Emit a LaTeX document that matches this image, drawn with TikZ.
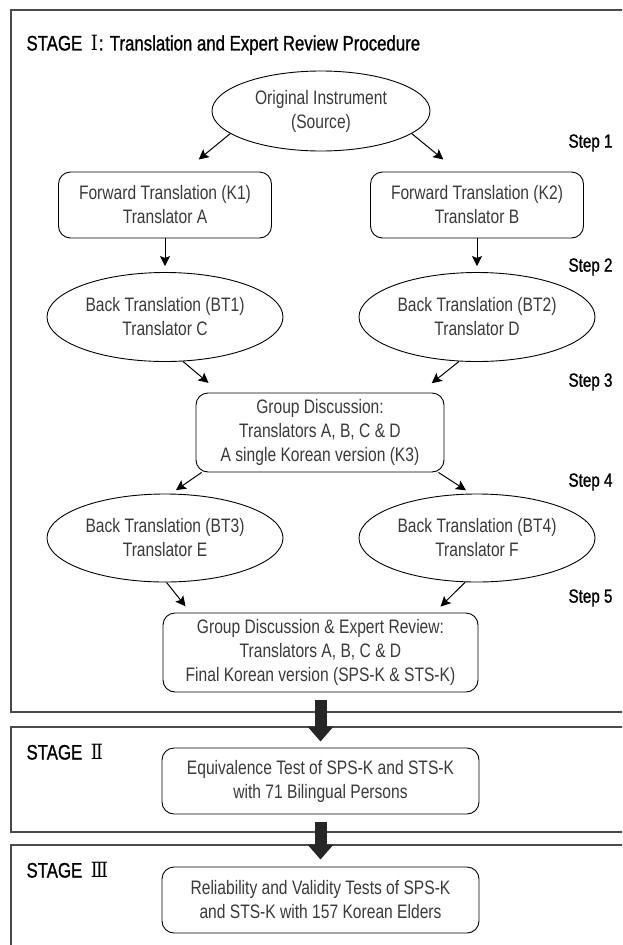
\documentclass[tikz,border=0pt]{standalone}
\usepackage{fontspec}
\setmainfont{Liberation Sans}[FakeStretch=0.8]
\newfontfamily\medfont{Liberation Sans}[FakeStretch=0.8,FakeBold=1]
\newfontfamily\numfont{DejaVu Serif}[FakeStretch=0.85]
\usetikzlibrary{shapes.geometric,arrows.meta,calc}
\definecolor{txt}{HTML}{3A3A3A}
\definecolor{frame}{HTML}{4A4A4A}
\begin{document}
\begin{tikzpicture}[x=1pt,y=-1pt,
  stagebox/.style={draw=frame,line width=1.3pt},
  rbox/.style={draw,rounded corners=12pt,line width=0.9pt,text=txt,align=center,inner sep=0pt,font=\fontsize{19.5}{24}\selectfont},
  ebox/.style={draw,ellipse,line width=0.9pt,text=txt,align=center,inner sep=0pt,font=\fontsize{19.5}{24}\selectfont},
  arr/.style={-{Stealth[length=10pt,width=10pt,inset=2pt]},line width=1pt},
  steplab/.style={font=\medfont\fontsize{19}{22}\selectfont,anchor=west},
  stagelab/.style={font=\medfont\fontsize{21}{24}\selectfont,anchor=west},
  bigarr/.style={line width=12pt,draw=black!85,-{Triangle[width=25pt,length=15pt]}}
]
\useasboundingbox (0,0) rectangle (622,945);
\clip (0,0) rectangle (622,945);
\fill[white] (0,0) rectangle (622,945);
% stage frames
\draw[stagebox] (11,10) rectangle (660,712);
\draw[stagebox] (11,727) rectangle (660,832);
\draw[stagebox] (11,845) rectangle (660,1000);
% labels
\node[stagelab] (t1) at (23,45) {STAGE\hspace{4pt} {\numfont Ⅰ}\hspace{1pt}: Translation and Expert Review Procedure};
\node[stagelab] (t2) at (23,752) {STAGE\hspace{4pt} {\numfont Ⅱ}};
\node[stagelab] (t3) at (23,870) {STAGE\hspace{4pt} {\numfont Ⅲ}};
\node[steplab] (s1) at (565,143) {Step 1};
\node[steplab] (s2) at (565,267) {Step 2};
\node[steplab] (s3) at (565,382) {Step 3};
\node[steplab] (s4) at (565,482) {Step 4};
\node[steplab] (s5) at (565,598) {Step 5};
% nodes
\node[ebox,minimum width=218pt,minimum height=80pt] (orig) at (321,111) {Original Instrument\\(Source)};
\node[rbox,minimum width=213pt,minimum height=66pt] (ft1) at (165,205) {Forward Translation (K1)\\Translator A};
\node[rbox,minimum width=213pt,minimum height=66pt] (ft2) at (477,205) {Forward Translation (K2)\\Translator B};
\node[ebox,minimum width=236pt,minimum height=89pt] (bt1) at (165,317) {Back Translation (BT1)\\Translator C};
\node[ebox,minimum width=236pt,minimum height=89pt] (bt2) at (477,317) {Back Translation (BT2)\\Translator D};
\node[rbox,minimum width=248pt,minimum height=79pt] (gd) at (320,432.5) {Group Discussion:\\Translators A, B, C \& D\\A single Korean version (K3)};
\node[ebox,minimum width=236pt,minimum height=88pt] (bt3) at (165,538) {Back Translation (BT3)\\Translator E};
\node[ebox,minimum width=236pt,minimum height=88pt] (bt4) at (477,538) {Back Translation (BT4)\\Translator F};
\node[rbox,minimum width=315pt,minimum height=79pt] (fin) at (320.5,652.5) {Group Discussion \& Expert Review:\\Translators A, B, C \& D\\Final Korean version (SPS-K \& STS-K)};
\node[rbox,minimum width=317pt,minimum height=66pt] (eq) at (320.5,781) {Equivalence Test of SPS-K and STS-K\\with 71 Bilingual Persons};
\node[rbox,minimum width=317pt,minimum height=66pt] (rel) at (320.5,900) {Reliability and Validity Tests of SPS-K\\and STS-K with 157 Korean Elders};
% connectors
\draw[arr,shorten >=19pt] (orig.194) -- ([xshift=19pt]ft1.north);
\draw[arr,shorten >=19pt] (orig.-14) -- ([xshift=-19pt]ft2.north);
\draw[arr,shorten >=6pt] (ft1) -- (bt1);
\draw[arr,shorten >=6pt] (ft2) -- (bt2);
\draw[arr,shorten >=15pt] (bt1.-68) -- ([xshift=-100pt]gd.north);
\draw[arr,shorten >=15pt] (bt2.-112) -- ([xshift=100pt]gd.north);
\draw[arr,shorten >=6pt] ([xshift=6pt]gd.south west) -- ([xshift=6pt]bt3.north);
\draw[arr,shorten >=6pt] ([xshift=-6pt]gd.south east) -- ([xshift=-6pt]bt4.north);
\draw[arr,shorten >=8pt] (bt3.-88) -- ([xshift=-130pt]fin.north);
\draw[arr,shorten >=8.5pt] (bt4.-105) -- ([xshift=114pt]fin.north);
\draw[bigarr] ([yshift=-8pt]fin.south) -- ([yshift=6pt]eq.north);
\draw[bigarr] ([yshift=-8pt]eq.south) -- ([yshift=7pt]rel.north);
\end{tikzpicture}
\end{document}
